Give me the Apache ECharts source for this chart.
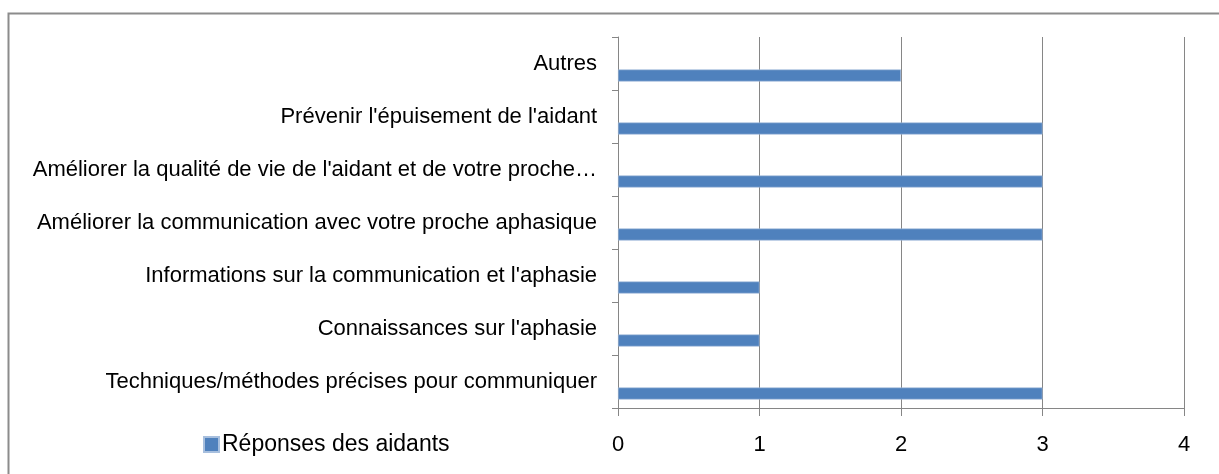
<!DOCTYPE html>
<html>
<head>
<meta charset="utf-8">
<script src="https://cdn.jsdelivr.net/npm/echarts@6/dist/echarts.min.js"></script>
<style>
  html, body { margin: 0; padding: 0; background: #fff; }
  #main { width: 1219px; height: 474px; }
</style>
</head>
<body>
<div id="main"></div>
<script>
var categories = [
  'Techniques/méthodes précises pour communiquer',
  "Connaissances sur l'aphasie",
  "Informations sur la communication et l'aphasie",
  'Améliorer la communication avec votre proche aphasique',
  "Améliorer la qualité de vie de l'aidant et de votre proche…",
  "Prévenir l'épuisement de l'aidant",
  'Autres'
];
var reponses = [3, 1, 1, 3, 3, 3, 2];
var ticks = [0, 1, 2, 3, 4];

var myChart = echarts.init(document.getElementById('main'));
var gray = '#868686';
var font = 'Liberation Sans';

var option = {
  animation: false,
  textStyle: { fontFamily: font },
  graphic: [{
    type: 'rect',
    shape: { x: 8.5, y: 13.5, width: 1300, height: 600 },
    style: { fill: 'none', stroke: '#8c8c8c', lineWidth: 2 },
    silent: true
  }],
  legend: {
    data: ['Réponses des aidants'],
    left: 198,
    top: 428,
    itemWidth: 15,
    itemHeight: 15,
    itemGap: 6,
    icon: 'rect',
    textStyle: { fontSize: 23, color: '#000', fontFamily: font, padding: [0, 0, 0, -2] }
  },
  grid: { left: 618, right: 35, top: 37, bottom: 66, containLabel: false },
  xAxis: {
    type: 'value',
    min: ticks[0],
    max: ticks[ticks.length - 1],
    interval: 1,
    axisLine: { show: true, lineStyle: { color: gray, width: 1 } },
    axisTick: { show: true, length: 8, lineStyle: { color: gray } },
    splitLine: { show: true, lineStyle: { color: gray, width: 1 } },
    axisLabel: { fontSize: 22, color: '#000', margin: 26 }
  },
  yAxis: {
    type: 'category',
    data: categories,
    axisLine: { show: true, lineStyle: { color: gray, width: 1 } },
    axisTick: { show: true, length: 6, lineStyle: { color: gray } },
    axisLabel: { fontSize: 22, color: '#000', margin: 21, padding: [4, 0, 0, 0] }
  },
  series: [
    {
      name: 'vide',
      type: 'bar',
      barWidth: 12,
      barGap: '100%',
      data: categories.map(function () { return null; })
    },
    {
      name: 'Réponses des aidants',
      type: 'bar',
      barWidth: 12,
      barGap: '100%',
      itemStyle: { color: '#4F81BD', borderColor: '#A7BFDE', borderWidth: 0.6 },
      data: reponses
    }
  ]
};

myChart.setOption(option);
</script>
</body>
</html>
